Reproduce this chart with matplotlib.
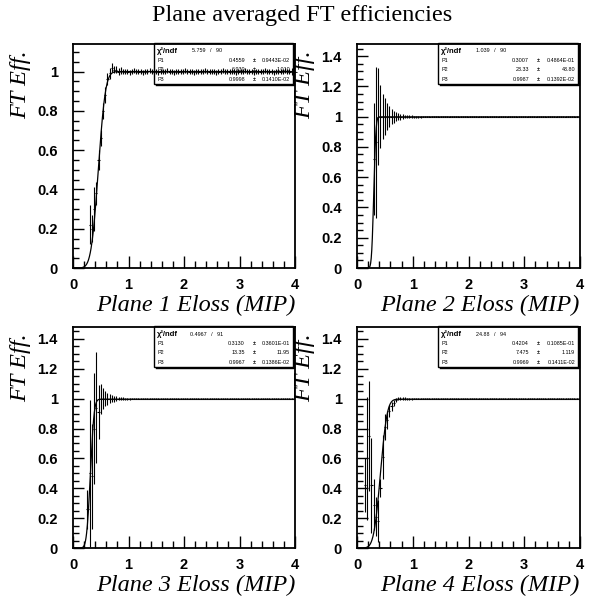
import numpy as np
import matplotlib
matplotlib.use("Agg")
import matplotlib.pyplot as plt
from matplotlib.ticker import MultipleLocator, FuncFormatter
from matplotlib.patches import Rectangle
from math import erf

# ---------------- data ----------------
title = "Plane averaged FT efficiencies"
x_titles = ["Plane 1 Eloss (MIP)", "Plane 2 Eloss (MIP)", "Plane 3 Eloss (MIP)", "Plane 4 Eloss (MIP)"]
y_title = "FT Eff."
x_range = (0.0, 4.0)
n_bins = 100

eff_p1 = [None, None, None, None, None, None, None,
          0.22, 0.20, 0.30, 0.38, 0.55, 0.66, 0.80, 0.88, 0.96, 0.99, 1.02, 1.01,
          1.01, 1.00, 1.005, 1.00, 1.00, 1.00, 0.995, 1.00, 1.005, 1.00,
          1.00, 1.00, 0.995, 1.00, 1.00, 1.005, 1.00, 1.00, 1.00, 0.995,
          1.00, 1.00, 1.00, 1.005, 1.00, 1.00, 0.995, 1.00, 1.00, 1.00,
          1.00, 1.005, 1.00, 1.00, 1.00, 0.995, 1.00, 1.00, 1.00, 1.00,
          1.005, 1.00, 1.00, 1.00, 1.00, 0.995, 1.00, 1.00, 1.005, 1.00,
          1.00, 1.00, 1.00, 1.00, 0.995, 1.00, 1.00, 1.00, 1.005, 1.00,
          1.00, 1.00, 0.995, 1.00, 1.00, 1.00, 1.00, 1.005, 1.00, 1.00,
          1.00, 0.995, 1.00, 1.00, 1.00, 1.00, 1.005, 1.00, 1.00, 1.00,
          1.00]
err_p1 = [None, None, None, None, None, None, None,
          0.10, 0.07, 0.11, 0.06, 0.05, 0.04, 0.04, 0.04, 0.03, 0.03, 0.025, 0.02,
          0.018, 0.017, 0.016, 0.015, 0.015, 0.014, 0.014, 0.013, 0.013, 0.013,
          0.012, 0.012, 0.012, 0.012, 0.011, 0.012, 0.011, 0.011, 0.012, 0.011,
          0.011, 0.011, 0.012, 0.011, 0.011, 0.011, 0.012, 0.011, 0.011, 0.012,
          0.011, 0.012, 0.011, 0.012, 0.011, 0.012, 0.012, 0.011, 0.012, 0.012,
          0.012, 0.012, 0.012, 0.013, 0.012, 0.012, 0.013, 0.012, 0.013, 0.012,
          0.013, 0.013, 0.012, 0.013, 0.013, 0.013, 0.013, 0.014, 0.013, 0.013,
          0.014, 0.013, 0.014, 0.014, 0.013, 0.014, 0.014, 0.014, 0.014, 0.015,
          0.014, 0.015, 0.014, 0.015, 0.015, 0.014, 0.015, 0.015, 0.015, 0.016,
          0.015]

eff_p2 = [None, None, None, None, None, None, None,
          0.72, 0.83, 1.00, 1.00, 1.00, 1.00, 1.00, 1.00, 1.00, 1.00, 1.00, 1.00, 1.00, 1.00,
          1.00, 1.00, 1.00, 1.00, 1.00, 1.00, 1.00, 1.00, 1.00,
          1.00, 1.00, 1.00, 1.00, 1.00, 1.00, 1.00, 1.00, 1.00, 1.00,
          1.00, 1.00, 1.00, 1.00, 1.00, 1.00, 1.00, 1.00, 1.00, 1.00,
          1.00, 1.00, 1.00, 1.00, 1.00, 1.00, 1.00, 1.00, 1.00, 1.00,
          1.00, 1.00, 1.00, 1.00, 1.00, 1.00, 1.00, 1.00, 1.00, 1.00,
          1.00, 1.00, 1.00, 1.00, 1.00, 1.00, 1.00, 1.00, 1.00, 1.00,
          1.00, 1.00, 1.00, 1.00, 1.00, 1.00, 1.00, 1.00, 1.00, 1.00,
          1.00, 1.00, 1.00, 1.00, 1.00, 1.00, 1.00, 1.00, 1.00, 1.00]
err_p2 = [None, None, None, None, None, None, None,
          0.37, 0.50, 0.32, 0.21, 0.15, 0.12, 0.09, 0.07, 0.05, 0.04, 0.03, 0.025, 0.02, 0.015,
          0.012, 0.010, 0.009, 0.008, 0.007, 0.007, 0.006, 0.006, 0.005,
          0.005, 0.005, 0.004, 0.004, 0.004, 0.004, 0.004, 0.004, 0.004, 0.004,
          0.004, 0.004, 0.004, 0.004, 0.004, 0.004, 0.004, 0.004, 0.004, 0.004,
          0.004, 0.004, 0.004, 0.004, 0.004, 0.004, 0.004, 0.004, 0.004, 0.004,
          0.004, 0.004, 0.004, 0.004, 0.004, 0.004, 0.004, 0.004, 0.004, 0.004,
          0.004, 0.004, 0.004, 0.004, 0.004, 0.004, 0.004, 0.004, 0.004, 0.004,
          0.004, 0.004, 0.004, 0.004, 0.004, 0.004, 0.004, 0.004, 0.004, 0.004,
          0.004, 0.004, 0.004, 0.004, 0.004, 0.004, 0.004, 0.004, 0.004, 0.004]

eff_p3 = [None, None, None, None, None, None,
          0.26, 0.50, 0.48, 0.80, 0.94, 0.91, 1.00, 1.00, 1.00, 1.00, 1.00, 1.00, 1.00, 1.00, 1.00,
          1.00, 1.00, 1.00, 1.00, 1.00, 1.00, 1.00, 1.00, 1.00,
          1.00, 1.00, 1.00, 1.00, 1.00, 1.00, 1.00, 1.00, 1.00, 1.00,
          1.00, 1.00, 1.00, 1.00, 1.00, 1.00, 1.00, 1.00, 1.00, 1.00,
          1.00, 1.00, 1.00, 1.00, 1.00, 1.00, 1.00, 1.00, 1.00, 1.00,
          1.00, 1.00, 1.00, 1.00, 1.00, 1.00, 1.00, 1.00, 1.00, 1.00,
          1.00, 1.00, 1.00, 1.00, 1.00, 1.00, 1.00, 1.00, 1.00, 1.00,
          1.00, 1.00, 1.00, 1.00, 1.00, 1.00, 1.00, 1.00, 1.00, 1.00,
          1.00, 1.00, 1.00, 1.00, 1.00, 1.00, 1.00, 1.00, 1.00, 1.00]
err_p3 = [None, None, None, None, None, None,
          0.13, 0.49, 0.35, 0.37, 0.37, 0.18, 0.10, 0.07, 0.05, 0.04, 0.03, 0.025, 0.02, 0.015, 0.012,
          0.010, 0.008, 0.007, 0.006, 0.006, 0.005, 0.005, 0.005, 0.004,
          0.004, 0.004, 0.004, 0.004, 0.004, 0.004, 0.004, 0.004, 0.004, 0.004,
          0.004, 0.004, 0.004, 0.004, 0.004, 0.004, 0.004, 0.004, 0.004, 0.004,
          0.004, 0.004, 0.004, 0.004, 0.004, 0.004, 0.004, 0.004, 0.004, 0.004,
          0.004, 0.004, 0.004, 0.004, 0.004, 0.004, 0.004, 0.004, 0.004, 0.004,
          0.004, 0.004, 0.004, 0.004, 0.004, 0.004, 0.004, 0.004, 0.004, 0.004,
          0.004, 0.004, 0.004, 0.004, 0.004, 0.004, 0.004, 0.004, 0.004, 0.004,
          0.004, 0.004, 0.004, 0.004, 0.004, 0.004, 0.004, 0.004, 0.004, 0.004]

eff_p4 = [None, None, None,
          0.42, 0.60, 0.75, 0.42, 0.29, 0.21, 0.18, 0.40, 0.61, 0.81, 0.86, 0.92, 0.95, 0.97, 0.99, 1.00, 1.00, 1.00,
          1.00, 1.00, 1.00, 1.00, 1.00, 1.00, 1.00, 1.00, 1.00,
          1.00, 1.00, 1.00, 1.00, 1.00, 1.00, 1.00, 1.00, 1.00, 1.00,
          1.00, 1.00, 1.00, 1.00, 1.00, 1.00, 1.00, 1.00, 1.00, 1.00,
          1.00, 1.00, 1.00, 1.00, 1.00, 1.00, 1.00, 1.00, 1.00, 1.00,
          1.00, 1.00, 1.00, 1.00, 1.00, 1.00, 1.00, 1.00, 1.00, 1.00,
          1.00, 1.00, 1.00, 1.00, 1.00, 1.00, 1.00, 1.00, 1.00, 1.00,
          1.00, 1.00, 1.00, 1.00, 1.00, 1.00, 1.00, 1.00, 1.00, 1.00,
          1.00, 1.00, 1.00, 1.00, 1.00, 1.00, 1.00, 1.00, 1.00, 1.00]
err_p4 = [None, None, None,
          0.18, 0.41, 0.37, 0.32, 0.17, 0.13, 0.14, 0.06, 0.15, 0.09, 0.06, 0.04, 0.03, 0.02, 0.015, 0.012, 0.010, 0.009,
          0.008, 0.007, 0.006, 0.006, 0.005, 0.005, 0.005, 0.004, 0.004,
          0.004, 0.004, 0.004, 0.004, 0.004, 0.004, 0.004, 0.004, 0.004, 0.004,
          0.004, 0.004, 0.004, 0.004, 0.004, 0.004, 0.004, 0.004, 0.004, 0.004,
          0.004, 0.004, 0.004, 0.004, 0.004, 0.004, 0.004, 0.004, 0.004, 0.004,
          0.004, 0.004, 0.004, 0.004, 0.004, 0.004, 0.004, 0.004, 0.004, 0.004,
          0.004, 0.004, 0.004, 0.004, 0.004, 0.004, 0.004, 0.004, 0.004, 0.004,
          0.004, 0.004, 0.004, 0.004, 0.004, 0.004, 0.004, 0.004, 0.004, 0.004,
          0.004, 0.004, 0.004, 0.004, 0.004, 0.004, 0.004, 0.004, 0.004, 0.004]

# fit results shown in the stat boxes
chi2_str = ["5.759", "1.039", "0.4967", "24.88"]
ndf = [90, 90, 91, 94]
p1 = [0.4559, 0.3007, 0.3130, 0.4204]
p1_err = ["0.9443E-02", "0.4864E-01", "0.3601E-01", "0.1085E-01"]
p2 = [6.930, 23.33, 13.35, 7.475]
p2_err = ["1.010", "43.80", "11.95", "1.119"]
p3 = [0.9998, 0.9987, 0.9967, 0.9969]
p3_err = ["0.1410E-02", "0.1392E-02", "0.1386E-02", "0.1411E-02"]
y_max = [1.14, 1.48, 1.48, 1.48]

effs = [eff_p1, eff_p2, eff_p3, eff_p4]
errs = [err_p1, err_p2, err_p3, err_p4]

# ---------------- layout ----------------
W, H = 597, 603
fig = plt.figure(figsize=(W / 100, H / 100), dpi=100)

SANS = "Liberation Sans"
SERIF = "Liberation Serif"

boxes_px = [(73, 44, 295, 268), (357, 44, 580, 268), (73, 327, 295, 548), (357, 327, 580, 548)]


def fx(x):
    return x / W


def fy(y):
    return 1 - y / H


fig.text(fx(302), fy(16), title, family=SERIF, fontsize=17.5, ha="center", va="center")

edges = np.linspace(x_range[0], x_range[1], n_bins + 1)
centers = 0.5 * (edges[:-1] + edges[1:])
half_w = 0.5 * (edges[1] - edges[0])
xs = np.linspace(x_range[0], x_range[1], 801)

for i, (l, t, r, b) in enumerate(boxes_px):
    ax = fig.add_axes([fx(l), fy(b), fx(r - l), (b - t) / H])
    ax.set_xlim(*x_range)
    ax.set_ylim(0, y_max[i])
    for s in ax.spines.values():
        s.set_linewidth(1.3)

    ax.xaxis.set_major_locator(MultipleLocator(1))
    ax.xaxis.set_minor_locator(MultipleLocator(0.2))
    ax.yaxis.set_major_locator(MultipleLocator(0.2))
    ax.yaxis.set_minor_locator(MultipleLocator(0.05))
    fmt = FuncFormatter(lambda v, p: "%g" % round(v, 3))
    ax.xaxis.set_major_formatter(fmt)
    ax.yaxis.set_major_formatter(fmt)
    ax.tick_params(axis="both", which="both", direction="in", top=False, right=False, width=1)
    ax.tick_params(axis="x", which="major", length=9, pad=7)
    ax.tick_params(axis="x", which="minor", length=5)
    ax.tick_params(axis="y", which="major", length=8, pad=11)
    ax.tick_params(axis="y", which="minor", length=4)
    for lab in ax.get_xticklabels() + ax.get_yticklabels():
        lab.set_fontfamily(SANS)
        lab.set_fontweight("bold")
        lab.set_fontsize(10.5)

    y = np.array(effs[i], dtype=float)
    e = np.array(errs[i], dtype=float)
    ok = ~np.isnan(y)
    ax.errorbar(centers[ok], y[ok], yerr=e[ok], xerr=half_w, fmt="none",
                ecolor="black", elinewidth=0.8, capsize=0, zorder=4)

    curve = np.array([p3[i] * 0.5 * (1 + erf(p2[i] * (xv - p1[i]))) for xv in xs])
    ax.plot(xs, curve, color="black", lw=0.9, zorder=5)

    # axis titles
    fig.text(fx(r), fy(b + 37), x_titles[i], family=SERIF, style="italic",
             fontsize=17.5, ha="right", va="center")
    fig.text(fx(l - 52), fy(t + 6), y_title, family=SERIF, style="italic",
             fontsize=17.5, ha="center", va="top", rotation=90)

    # stat box (drawn under the data, like the reference)
    bl, bt, br, bb = l + 81, t - 1, r - 2, t + 40
    ax.add_patch(Rectangle((fx(bl), fy(bb)), fx(br - bl), (bb - bt) / H,
                           transform=fig.transFigure, facecolor="white",
                           edgecolor="black", lw=1.0, clip_on=False, zorder=1))
    ax.plot([fx(bl + 2), fx(br + 1), fx(br + 1)], [fy(bb + 1), fy(bb + 1), fy(bt + 2)],
            transform=fig.transFigure, color="black", lw=1.0, clip_on=False, zorder=1)
    rows = [("\u03c7\u00b2/ndf", None, None),
            ("P1", "%.4f" % p1[i], p1_err[i]),
            ("P2", ("%.3f" % p2[i]) if p2[i] < 10 else ("%.2f" % p2[i]), p2_err[i]),
            ("P3", "%.4f" % p3[i], p3_err[i])]
    for k, (name, val, er) in enumerate(rows):
        yy = fy(bt + 8 + 9.4 * k)
        kw = dict(transform=fig.transFigure, family=SANS, fontsize=3.9,
                  va="center", zorder=2, clip_on=False)
        if k == 0:
            ax.text(fx(bl + 3), yy, name, ha="left", transform=fig.transFigure,
                    family=SANS, fontsize=5.5, fontweight="bold", va="center",
                    zorder=2, clip_on=False)
            ax.text(fx(bl + 53), yy, "%s   /   %d" % (chi2_str[i], ndf[i]), ha="center", **kw)
        else:
            ax.text(fx(bl + 3), yy, name, ha="left", **kw)
            ax.text(fx(bl + 91), yy, val, ha="right", **kw)
            ax.text(fx(bl + 100), yy, "\u00b1", ha="center", fontweight="bold", **kw)
            ax.text(fx(br - 3), yy, er, ha="right", **kw)

fig.savefig("out.png", dpi=100)
